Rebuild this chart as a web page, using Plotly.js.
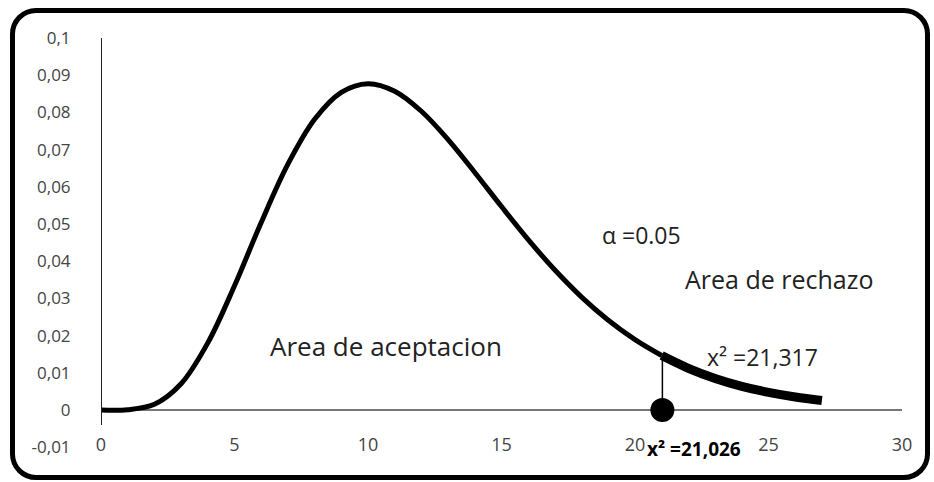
<!DOCTYPE html>
<html>
<head>
<meta charset="utf-8">
<script src="https://cdn.plot.ly/plotly-3.0.1.min.js"></script>
<style>
  html, body { margin: 0; padding: 0; background: #fff; }
  #wrap { position: relative; width: 934px; height: 482px; }
  #chart { position: absolute; left: 0; top: 0; width: 934px; height: 482px; }
  #frame { position: absolute; left: 10px; top: 8px; width: 910px; height: 462px;
           border: 5px solid #000; border-radius: 26px; pointer-events: none; }
</style>
</head>
<body>
<div id="wrap">
  <div id="chart"></div>
  <div id="frame"></div>
</div>
<script>
// Chi-square density curve
const curveX = [0, 1, 2, 3, 4, 5, 6, 7, 8, 9, 10, 11, 12, 13, 14, 15, 16, 17, 18, 19, 20, 21];
const curveY = [0, 0.00008, 0.00153, 0.00706, 0.01804, 0.0334, 0.05041, 0.06608, 0.07815, 0.08541, 0.08773, 0.0857, 0.08031, 0.07268, 0.06386, 0.05469, 0.0458, 0.03762, 0.03036, 0.02413, 0.01892, 0.01464];
// Rejection tail
const tailX = [21, 22, 23, 24, 25, 26, 27];
const tailY = [0.01464, 0.01121, 0.00849, 0.00637, 0.00474, 0.0035, 0.00256];
// Critical value marker
const critX = [21.026];
const critY = [0];
const critTopY = [0.0146];

const yTickVals = [0.1, 0.09, 0.08, 0.07, 0.06, 0.05, 0.04, 0.03, 0.02, 0.01, 0, -0.01];
const yTickText = ["0,1", "0,09", "0,08", "0,07", "0,06", "0,05", "0,04", "0,03", "0,02", "0,01", "0", "-0,01"];
const xTickVals = [0, 5, 10, 15, 20, 25, 30];
const xTickText = ["0", "5", "10", "15", "20", "25", "30"];

const yTickFont = { family: "Open Sans", size: 17, color: "#444" };
const xTickFont = { family: "Open Sans", size: 18, color: "#444" };

const traces = [
  { x: curveX, y: curveY, mode: "lines", line: { color: "#000", width: 5, shape: "spline", smoothing: 1 }, hoverinfo: "skip", cliponaxis: false },
  { x: tailX, y: tailY, mode: "lines", line: { color: "#000", width: 9, shape: "spline", smoothing: 1 }, hoverinfo: "skip", cliponaxis: false },
  { x: [critX[0], critX[0]], y: [critY[0], critTopY[0]], mode: "lines", line: { color: "#000", width: 1.5 }, hoverinfo: "skip" },
  { x: critX, y: critY, mode: "markers", marker: { color: "#000", size: 24 }, hoverinfo: "skip", cliponaxis: false }
];

const layout = {
  width: 934, height: 482,
  margin: { l: 101, r: 32, t: 38, b: 24 },
  paper_bgcolor: "#fff", plot_bgcolor: "#fff",
  showlegend: false,
  xaxis: {
    range: [0, 30], tickvals: xTickVals, ticktext: xTickText,
    showgrid: false, zeroline: false, showline: false, ticks: "",
    anchor: "free", position: 0.062, tickfont: xTickFont
  },
  yaxis: {
    range: [-0.0129, 0.1], tickvals: yTickVals, ticktext: yTickText,
    showgrid: false, zeroline: true, zerolinecolor: "#777", zerolinewidth: 1.2,
    showline: false, ticks: "outside", ticklen: 26, tickcolor: "rgba(0,0,0,0)",
    tickfont: yTickFont
  },
  shapes: [
    { type: "line", xref: "x", yref: "y", x0: 0, x1: 0, y0: 0.1, y1: -0.004, line: { color: "#222", width: 2 } }
  ],
  annotations: [
    { x: 20.26, y: 0.047, text: "α =0.05", showarrow: false, font: { family: "Open Sans", size: 23, color: "#222" }, xanchor: "center", yanchor: "middle" },
    { x: 25.43, y: 0.0352, text: "Area de rechazo", showarrow: false, font: { family: "Open Sans", size: 25, color: "#222" }, xanchor: "center", yanchor: "middle" },
    { x: 10.67, y: 0.0172, text: "Area de aceptacion", showarrow: false, font: { family: "Open Sans", size: 26, color: "#222" }, xanchor: "center", yanchor: "middle" },
    { x: 24.76, y: 0.01425, text: "x² =21,317", showarrow: false, font: { family: "Open Sans", size: 23, color: "#222" }, xanchor: "center", yanchor: "middle" },
    { x: 20.39, xref: "x", yref: "paper", y: 0.0214, text: "<b>x² =21,026</b>", showarrow: false, font: { family: "Open Sans", size: 19, color: "#000" }, xanchor: "left", yanchor: "middle" }
  ]
};

Plotly.newPlot("chart", traces, layout, { staticPlot: true, displayModeBar: false });
</script>
</body>
</html>
